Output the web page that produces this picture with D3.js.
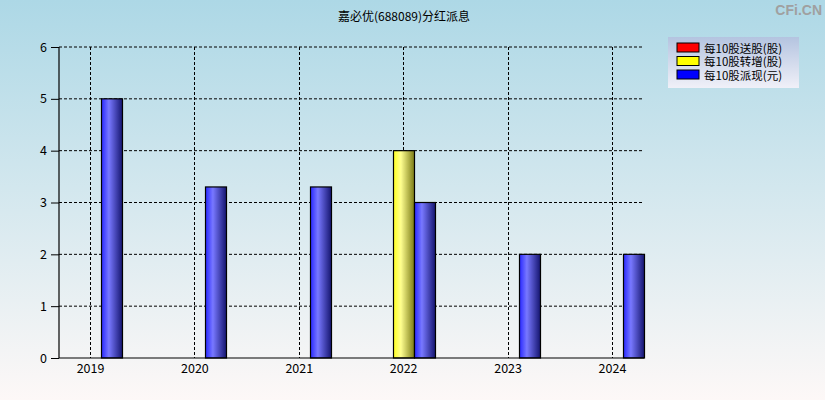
<!DOCTYPE html>
<html>
<head>
<meta charset="utf-8">
<script src="https://cdn.jsdelivr.net/npm/d3@7"></script>
<style>
  body { margin: 0; }
  svg { display: block; }
</style>
</head>
<body>
<div id="chart"></div>
<script>
// Datos
const anios = [2019, 2020, 2021, 2022, 2023, 2024];
const songu = [0, 0, 0, 0, 0, 0];          // 每10股送股(股)
const zhuanzeng = [0, 0, 0, 4, 0, 0];      // 每10股转增(股)
const paixian = [5, 3.3, 3.3, 3, 2, 2];    // 每10股派现(元)
const ticksY = [0, 1, 2, 3, 4, 5, 6];
const series = [
  { nombre: "每10股送股(股)", valores: songu, color: "red", grad: "gRed" },
  { nombre: "每10股转增(股)", valores: zhuanzeng, color: "yellow", grad: "gYellow" },
  { nombre: "每10股派现(元)", valores: paixian, color: "blue", grad: "gBlue" }
];

const width = 825, height = 400;
const m = { left: 59, right: 181, top: 47, bottom: 42 };
const font = "'Microsoft YaHei', 'Noto Sans CJK SC', sans-serif";

const svg = d3.select("#chart").append("svg")
  .attr("width", width).attr("height", height);

const defs = svg.append("defs");
const bg = defs.append("linearGradient").attr("id", "bg")
  .attr("x1", 0).attr("y1", 0).attr("x2", 0).attr("y2", 1);
bg.append("stop").attr("offset", "0%").attr("stop-color", "#add8e6");
bg.append("stop").attr("offset", "100%").attr("stop-color", "#fdf8f7");

const lg = defs.append("linearGradient").attr("id", "lg")
  .attr("x1", 0).attr("y1", 0).attr("x2", 0).attr("y2", 1);
lg.append("stop").attr("offset", "0%").attr("stop-color", "#b4c4e0");
lg.append("stop").attr("offset", "100%").attr("stop-color", "#f0f0f8");

// Gradientes horizontales de las barras
const gradBarra = (id, c1, c2, c3) => {
  const g = defs.append("linearGradient").attr("id", id)
    .attr("x1", 0).attr("y1", 0).attr("x2", 1).attr("y2", 0);
  g.append("stop").attr("offset", "0%").attr("stop-color", c1);
  g.append("stop").attr("offset", "35%").attr("stop-color", c2);
  g.append("stop").attr("offset", "100%").attr("stop-color", c3);
};
gradBarra("gBlue", "#2828ff", "#7878ff", "#14146e");
gradBarra("gYellow", "#ffff20", "#ffff90", "#7a7a14");
gradBarra("gRed", "#ff2020", "#ff8080", "#801010");

svg.append("rect").attr("width", width).attr("height", height).attr("fill", "url(#bg)");

const x = d3.scaleLinear()
  .domain([2018.703, 2024.307])
  .range([m.left, width - m.right]);
const y = d3.scaleLinear()
  .domain([0, 6])
  .range([height - m.bottom, m.top]);

// Rejilla
const grid = svg.append("g").attr("stroke", "#000").attr("stroke-dasharray", "3,2");
grid.selectAll("line.h").data(ticksY.slice(1)).join("line")
  .attr("x1", m.left).attr("x2", width - m.right)
  .attr("y1", d => y(d)).attr("y2", d => y(d));
grid.selectAll("line.v").data(anios).join("line")
  .attr("x1", d => Math.round(x(d)) + 0.5).attr("x2", d => Math.round(x(d)) + 0.5)
  .attr("y1", m.top).attr("y2", height - m.bottom);

// Barras: rojo, amarillo, azul lado a lado
const anchoBarra = 21;
series.forEach((s, i) => {
  svg.append("g").selectAll("rect").data(anios.map((a, j) => ({ a, v: s.valores[j] })).filter(d => d.v > 0))
    .join("rect")
    .attr("x", d => Math.round(x(d.a)) - 30.5 + i * anchoBarra)
    .attr("y", d => y(d.v))
    .attr("width", anchoBarra)
    .attr("height", d => y(0) - y(d.v))
    .attr("fill", `url(#${s.grad})`)
    .attr("stroke", "#000")
    .attr("stroke-width", 1.2);
});

// Ejes
const ejeY = svg.append("g").attr("transform", `translate(${m.left},0)`)
  .call(d3.axisLeft(y).tickValues(ticksY).tickSize(8).tickPadding(4).tickFormat(d3.format("d")));
ejeY.select(".domain").attr("d", `M0,${m.top}V${height - m.bottom}`).attr("stroke-width", 1.2);
ejeY.selectAll("text").attr("font-family", font).attr("font-size", 12.5).attr("fill", "#000");

const ejeX = svg.append("g").attr("transform", `translate(0,${height - m.bottom})`)
  .call(d3.axisBottom(x).tickValues(anios).tickSize(0).tickPadding(6).tickFormat(d3.format("d")));
ejeX.select(".domain").attr("d", `M${m.left},0H${width - m.right}`).attr("stroke-width", 1.2);
ejeX.selectAll("text").attr("font-family", font).attr("font-size", 12.5).attr("fill", "#000");

// Título
svg.append("text").attr("x", 404).attr("y", 21).attr("text-anchor", "middle")
  .attr("font-family", font).attr("font-size", 12).text("嘉必优(688089)分红派息");

// Marca de agua
svg.append("text").attr("x", 822).attr("y", 15).attr("text-anchor", "end")
  .attr("font-family", "Arial, 'Liberation Sans', sans-serif").attr("font-weight", "bold")
  .attr("font-size", 14).attr("fill", "#a0a0a0").text("CFi.CN");

// Leyenda
const leyenda = svg.append("g").attr("transform", "translate(668,37)");
leyenda.append("rect").attr("width", 131).attr("height", 51).attr("fill", "url(#lg)");
series.forEach((s, i) => {
  const fila = leyenda.append("g").attr("transform", `translate(9,${6 + i * 13.5})`);
  fila.append("rect").attr("width", 22).attr("height", 9)
    .attr("fill", s.color).attr("stroke", "#000").attr("stroke-width", 1);
  fila.append("text").attr("x", 27).attr("y", 9.5).attr("font-family", font)
    .attr("font-size", 11.5).text(s.nombre);
});
</script>
</body>
</html>
